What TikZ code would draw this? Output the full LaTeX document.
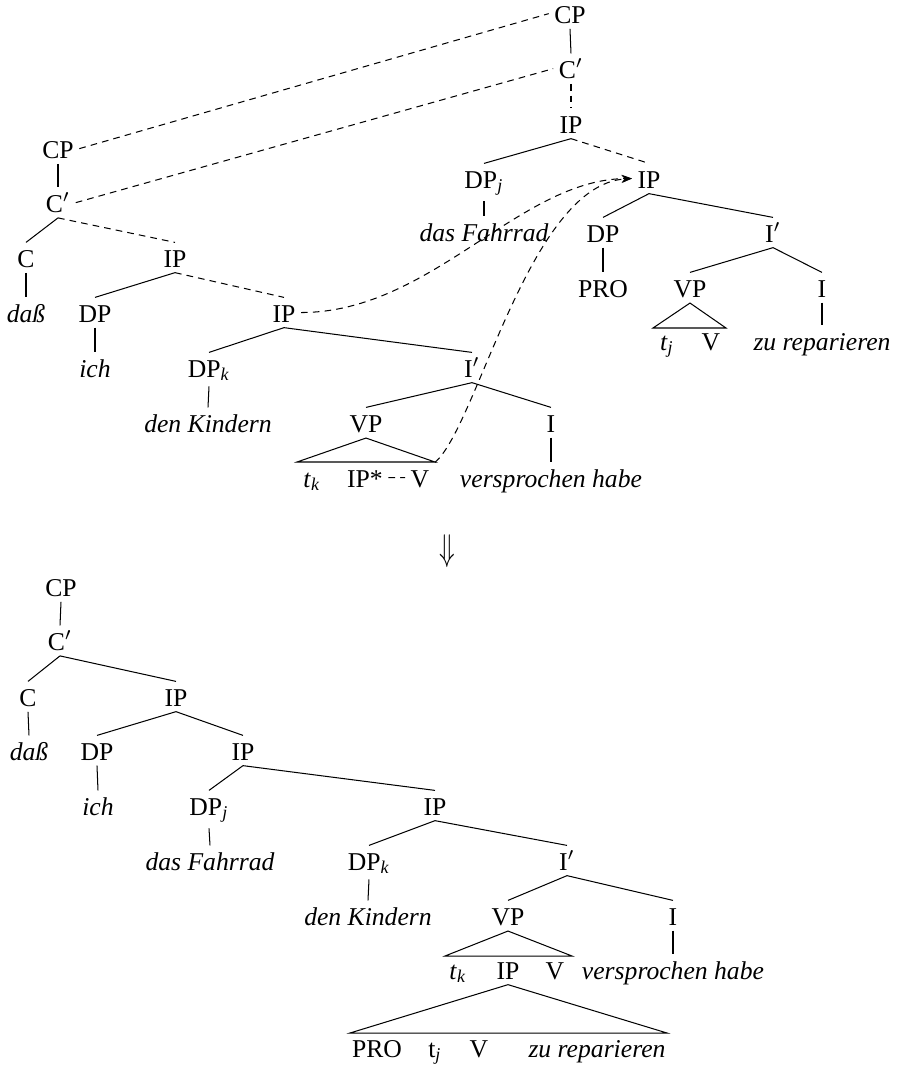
\documentclass[tikz,border=0pt]{standalone}
\usepackage{fontspec}
\usepackage{graphicx}
\setmainfont{Liberation Serif}
\usetikzlibrary{arrows.meta}
\newcommand\subi[1]{\textsubscript{\textit{#1}}}
\begin{document}
\begin{tikzpicture}[x=0.39pt,y=-0.39pt,
  n/.style={inner sep=2pt, text height=7.4pt, anchor=base, font=\fontsize{10}{12}\selectfont},
  sl/.style={line width=0.4pt},
  dl/.style={line width=0.4pt, dash pattern=on 2.6pt off 2pt},
  mv/.style={dl, -{Stealth[length=4pt,width=3pt]}}]
\useasboundingbox (0,0) rectangle (897,1066);

% ---------- top right tree ----------
\node[n] (tCP) at (570,23) {CP};
\node[n] (tCb) at (571,78) {C$'$};
\node[n] (tIP) at (571,133) {IP};
\node[n] (tDPj) at (484,188) {DP\subi{j}};
\node[n] (tIPr) at (649,188) {IP};
\node[n] (tFahr) at (484,241) {\textit{das Fahrrad}};
\node[n] (tDP) at (603,242) {DP};
\node[n] (tIb) at (773,242) {I$'$};
\node[n] (tPRO) at (603,297) {PRO};
\node[n] (tVP) at (690,297) {VP};
\node[n] (tI) at (822,297) {I};
\node[n] (ttj) at (667,350) {\textit{t}\subi{j}};
\node[n] (tV) at (711,350) {V};
\node[n] (tzu) at (822,350) {\textit{zu reparieren}};
\coordinate (tTl) at (653,328);
\coordinate (tTr) at (726,328);

\draw[sl] (tCP.south) -- (tCb.north);
\draw[dl] (tCb.south) -- (tIP.north);
\draw[sl] (tIP.south) -- (tDPj.north);
\draw[dl] (tIP.south) -- (tIPr.north);
\draw[sl] (tDPj.south) -- (tFahr.north);
\draw[sl] (tIPr.south) -- (tDP.north);
\draw[sl] (tIPr.south) -- (tIb.north);
\draw[sl] (tDP.south) -- (tPRO.north);
\draw[sl] (tIb.south) -- (tVP.north);
\draw[sl] (tIb.south) -- (tI.north);
\draw[sl] (tI.south) -- (tzu.north);
\draw[sl] (tVP.south) -- (tTl) -- (tTr) -- cycle;

% ---------- left tree ----------
\node[n] (lCP) at (58,158) {CP};
\node[n] (lCb) at (58,212) {C$'$};
\node[n] (lC) at (26,267) {C};
\node[n] (ldass) at (26,322) {\textit{daß}};
\node[n] (lIP1) at (175,267) {IP};
\node[n] (lDP) at (95,322) {DP};
\node[n] (lIP2) at (284,322) {IP};
\node[n] (lich) at (95,377) {\textit{ich}};
\node[n] (lDPk) at (209,377) {DP\subi{k}};
\node[n] (lIb) at (472,377) {I$'$};
\node[n] (lKind) at (208,432) {\textit{den Kindern}};
\node[n] (lVP) at (366,432) {VP};
\node[n] (lI) at (551,432) {I};
\node[n] (ltk) at (312,487) {\textit{t}\subi{k}};
\node[n] (lIPs) at (365,487) {IP*};
\node[n] (lV) at (420,487) {V};
\node[n] (lvers) at (551,487) {\textit{versprochen habe}};
\coordinate (lTl) at (297,462);
\coordinate (lTr) at (435,462);

\draw[sl] (lCP.south) -- (lCb.north);
\draw[sl] (lCb.south) -- (lC.north);
\draw[dl] (lCb.south) -- (lIP1.north);
\draw[sl] (lC.south) -- (ldass.north);
\draw[sl] (lIP1.south) -- (lDP.north);
\draw[dl] (lIP1.south) -- (lIP2.north);
\draw[sl] (lDP.south) -- (lich.north);
\draw[sl] (lIP2.south) -- (lDPk.north);
\draw[sl] (lIP2.south) -- (lIb.north);
\draw[sl] (lDPk.south) -- (lKind.north);
\draw[sl] (lIb.south) -- (lVP.north);
\draw[sl] (lIb.south) -- (lI.north);
\draw[sl] (lI.south) -- (lvers.north);
\draw[sl] (lVP.south) -- (lTl) -- (lTr) -- cycle;

% links between the trees
\draw[dl] (lCP.east) -- (tCP.west);
\draw[dl] (lCb.east) -- (tCb.west);
\draw[dl] (lIPs.east) -- (lV.west);
\draw[mv] (lIP2.east) .. controls +(130,0) and +(-113,1) .. (tIPr.west);
\draw[mv] (lV.north east) .. controls +(42,-35) and +(-103,6) .. (tIPr.west);

% ---------- arrow ----------
\node (arr) at (447,551) {\scalebox{1}[1.45]{$\Downarrow$}};

% ---------- bottom tree ----------
\node[n] (bCP) at (61,596) {CP};
\node[n] (bCb) at (60,650) {C$'$};
\node[n] (bC) at (28,706) {C};
\node[n] (bIP1) at (176,706) {IP};
\node[n] (bdass) at (29,760) {\textit{daß}};
\node[n] (bDP) at (97,760) {DP};
\node[n] (bIP2) at (243,760) {IP};
\node[n] (bich) at (98,815) {\textit{ich}};
\node[n] (bDPj) at (209,815) {DP\subi{j}};
\node[n] (bIP3) at (435,815) {IP};
\node[n] (bFahr) at (210,870) {\textit{das Fahrrad}};
\node[n] (bDPk) at (369,870) {DP\subi{k}};
\node[n] (bIb) at (567,870) {I$'$};
\node[n] (bKind) at (368,925) {\textit{den Kindern}};
\node[n] (bVP) at (508,925) {VP};
\node[n] (bI) at (673,925) {I};
\node[n] (btk) at (458,979) {\textit{t}\subi{k}};
\node[n] (bIP4) at (508,979) {IP};
\node[n] (bV) at (555,979) {V};
\node[n] (bvers) at (673,979) {\textit{versprochen habe}};
\node[n] (bPRO) at (377,1057) {PRO};
\node[n] (btj) at (435,1057) {t\subi{j}};
\node[n] (bV2) at (479,1057) {V};
\node[n] (bzu) at (597,1057) {\textit{zu reparieren}};
\coordinate (bTl) at (445,956);
\coordinate (bTr) at (572,956);
\coordinate (bUl) at (350,1033);
\coordinate (bUr) at (667,1033);

\draw[sl] (bCP.south) -- (bCb.north);
\draw[sl] (bCb.south) -- (bC.north);
\draw[sl] (bCb.south) -- (bIP1.north);
\draw[sl] (bC.south) -- (bdass.north);
\draw[sl] (bIP1.south) -- (bDP.north);
\draw[sl] (bIP1.south) -- (bIP2.north);
\draw[sl] (bDP.south) -- (bich.north);
\draw[sl] (bIP2.south) -- (bDPj.north);
\draw[sl] (bIP2.south) -- (bIP3.north);
\draw[sl] (bDPj.south) -- (bFahr.north);
\draw[sl] (bIP3.south) -- (bDPk.north);
\draw[sl] (bIP3.south) -- (bIb.north);
\draw[sl] (bDPk.south) -- (bKind.north);
\draw[sl] (bIb.south) -- (bVP.north);
\draw[sl] (bIb.south) -- (bI.north);
\draw[sl] (bI.south) -- (bvers.north);
\draw[sl] (bVP.south) -- (bTl) -- (bTr) -- cycle;
\draw[sl] (bIP4.south) -- (bUl) -- (bUr) -- cycle;
\end{tikzpicture}
\end{document}
